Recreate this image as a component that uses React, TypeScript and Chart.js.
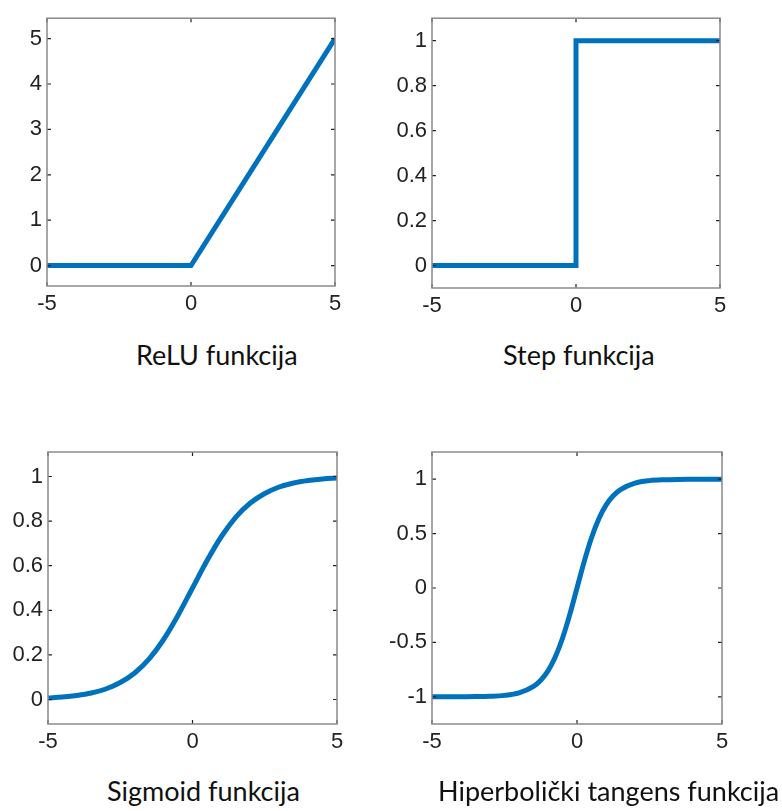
import React, { useEffect, useRef } from 'react';
import { Chart, registerables } from 'chart.js';

Chart.register(...registerables);

// ---------- data ----------
const xTicks = [-5, 0, 5];

const reluX = [-5, 0, 5];
const reluY = [0, 0, 5];
const reluYTicks = [0, 1, 2, 3, 4, 5];

const stepX = [-5, 0, 0, 5];
const stepY = [0, 0, 1, 1];
const stepYTicks = [0, 0.2, 0.4, 0.6, 0.8, 1];

const sigmoidX = [-5, -4.5, -4, -3.5, -3, -2.5, -2, -1.5, -1, -0.5, 0, 0.5, 1, 1.5, 2, 2.5, 3, 3.5, 4, 4.5, 5];
const sigmoidY = [0.007, 0.011, 0.018, 0.029, 0.047, 0.076, 0.119, 0.182, 0.269, 0.378, 0.5, 0.622, 0.731, 0.818, 0.881, 0.924, 0.953, 0.971, 0.982, 0.989, 0.993];
const sigmoidYTicks = [0, 0.2, 0.4, 0.6, 0.8, 1];

const tanhX = [-5, -4.5, -4, -3.5, -3, -2.5, -2, -1.5, -1.25, -1, -0.75, -0.5, -0.25, 0, 0.25, 0.5, 0.75, 1, 1.25, 1.5, 2, 2.5, 3, 3.5, 4, 4.5, 5];
const tanhY = [-1, -1, -0.999, -0.998, -0.995, -0.987, -0.964, -0.905, -0.848, -0.762, -0.635, -0.462, -0.245, 0, 0.245, 0.462, 0.635, 0.762, 0.848, 0.905, 0.964, 0.987, 0.995, 0.998, 0.999, 1, 1];
const tanhYTicks = [-1, -0.5, 0, 0.5, 1];

const titles = ['ReLU funkcija', 'Step funkcija', 'Sigmoid funkcija', 'Hiperbolički tangens funkcija'];

// ---------- layout / style ----------
const LINE_COLOR = '#0072BD';
const TEXT_COLOR = '#222222';
const TICK_FONT = { family: '"Liberation Sans", Arial, sans-serif', size: 22 };

type Panel = {
  xs: number[]; ys: number[]; yTicks: number[]; yMin: number; yMax: number; smooth: boolean;
  canvas: [number, number, number, number]; // x, y, w, h
  area: [number, number, number, number]; // left, top, right, bottom (page coords)
  title: string; titleX: number; titleTop: number;
};

const panels: Panel[] = [
  { xs: reluX, ys: reluY, yTicks: reluYTicks, yMin: -0.45, yMax: 5.45, smooth: false,
    canvas: [0, 0, 390, 330], area: [47, 15, 335, 286], title: titles[0], titleX: 136, titleTop: 341 },
  { xs: stepX, ys: stepY, yTicks: stepYTicks, yMin: -0.1, yMax: 1.1, smooth: false,
    canvas: [385, 0, 397, 330], area: [432, 14, 720, 288], title: titles[1], titleX: 503, titleTop: 341 },
  { xs: sigmoidX, ys: sigmoidY, yTicks: sigmoidYTicks, yMin: -0.11, yMax: 1.11, smooth: true,
    canvas: [0, 430, 390, 340], area: [48, 452, 337, 724], title: titles[2], titleX: 107, titleTop: 777 },
  { xs: tanhX, ys: tanhY, yTicks: tanhYTicks, yMin: -1.25, yMax: 1.25, smooth: true,
    canvas: [380, 430, 402, 340], area: [432, 452, 722, 724], title: titles[3], titleX: 438, titleTop: 777 },
];

const framePlugin = {
  id: 'matlabFrame',
  afterDatasetsDraw(chart: any) {
    const { ctx, chartArea: a, scales } = chart;
    ctx.save();
    ctx.strokeStyle = TEXT_COLOR;
    ctx.lineWidth = 1.2;
    const tl = 4;
    ctx.beginPath();
    for (const t of scales.x.ticks) {
      const px = scales.x.getPixelForValue(t.value);
      ctx.moveTo(px, a.bottom); ctx.lineTo(px, a.bottom - tl);
      ctx.moveTo(px, a.top); ctx.lineTo(px, a.top + tl);
    }
    for (const t of scales.y.ticks) {
      const py = scales.y.getPixelForValue(t.value);
      ctx.moveTo(a.left, py); ctx.lineTo(a.left + tl, py);
      ctx.moveTo(a.right, py); ctx.lineTo(a.right - tl, py);
    }
    ctx.stroke();
    ctx.strokeStyle = '#8a8a8a';
    ctx.lineWidth = 1.5;
    ctx.strokeRect(a.left, a.top, a.right - a.left, a.bottom - a.top);
    ctx.restore();
  },
};

function PanelChart({ p }: { p: Panel }) {
  const ref = useRef<HTMLCanvasElement | null>(null);
  useEffect(() => {
    if (!ref.current) return;
    const [cx, cy, cw, ch] = p.canvas;
    const [l, t, r, b] = p.area;
    const yWidth = l - cx;
    const xHeight = cy + ch - b;
    const chart = new Chart(ref.current, {
      type: 'line',
      data: {
        datasets: [{
          data: p.xs.map((x, i) => ({ x, y: p.ys[i] })),
          borderColor: LINE_COLOR,
          borderWidth: 5,
          pointRadius: 0,
          fill: false,
          tension: 0,
          cubicInterpolationMode: p.smooth ? 'monotone' : 'default',
          borderJoinStyle: 'miter',
        }],
      },
      options: {
        animation: false,
        responsive: false,
        devicePixelRatio: 1,
        events: [],
        layout: { padding: { left: 0, top: t - cy, right: cx + cw - r, bottom: 0 } },
        plugins: { legend: { display: false }, tooltip: { enabled: false }, title: { display: false } },
        scales: {
          x: {
            type: 'linear', min: -5, max: 5,
            afterBuildTicks: (s: any) => { s.ticks = xTicks.map(v => ({ value: v })); },
            afterFit: (s: any) => { s.height = xHeight; },
            grid: { display: false, drawTicks: false },
            border: { display: false },
            ticks: { font: TICK_FONT, color: TEXT_COLOR, padding: 5, maxRotation: 0, autoSkip: false,
              callback: (v: any) => String(v) },
          },
          y: {
            type: 'linear', min: p.yMin, max: p.yMax,
            afterBuildTicks: (s: any) => { s.ticks = p.yTicks.map(v => ({ value: v })); },
            afterFit: (s: any) => { s.width = yWidth; },
            grid: { display: false, drawTicks: false },
            border: { display: false },
            ticks: { font: TICK_FONT, color: TEXT_COLOR, padding: 5, autoSkip: false,
              callback: (v: any) => String(v) },
          },
        },
      } as any,
      plugins: [framePlugin],
    });
    return () => chart.destroy();
  }, [p]);
  const [cx, cy, cw, ch] = p.canvas;
  return (
    <>
      <canvas ref={ref} width={cw} height={ch}
        style={{ position: 'absolute', left: cx, top: cy, width: cw, height: ch }} />
      <div style={{ position: 'absolute', left: p.titleX, top: p.titleTop, fontFamily: 'Lato, "Open Sans", sans-serif',
        fontSize: 27, lineHeight: '27px', color: '#111', whiteSpace: 'nowrap' }}>{p.title}</div>
    </>
  );
}

export default function App() {
  return (
    <div style={{ position: 'absolute', left: 0, top: 0, width: 782, height: 811, background: '#fff', overflow: 'hidden' }}>
      {panels.map((p, i) => <PanelChart key={i} p={p} />)}
    </div>
  );
}
